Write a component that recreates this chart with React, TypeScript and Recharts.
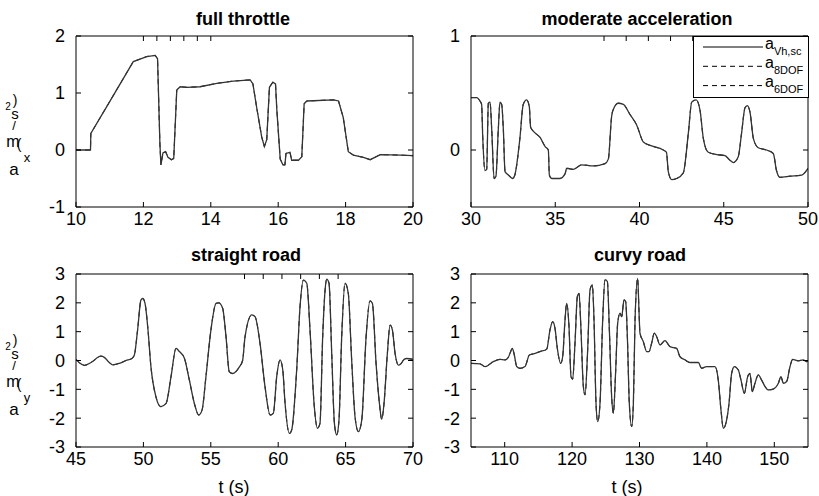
import React from 'react';
import { LineChart, Line, XAxis, YAxis, Legend } from 'recharts';

const W = 819;
const H = 496;

// full throttle (a_x)
const ftTime = [
  10, 10.43, 10.44, 11.0, 11.7, 12.1, 12.35, 12.42, 12.49, 12.52,
  12.58, 12.66, 12.73, 12.83, 12.9, 12.99, 13.09, 13.29, 13.68, 14.18,
  14.67, 15.17, 15.25, 15.36, 15.51, 15.59, 15.66, 15.74, 15.84, 15.92,
  15.96, 16.06, 16.14, 16.2, 16.23, 16.35, 16.4, 16.6, 16.7, 16.77,
  16.85, 17.64, 17.79, 17.93, 18.08, 18.23, 18.53, 18.73, 19.03, 19.63, 20,
];
const ftMeas = [
  0, 0, 0.29, 0.85, 1.55, 1.64, 1.66, 1.6, 0.1, -0.26,
  -0.05, -0.03, -0.13, -0.17, -0.15, 1.05, 1.11, 1.1, 1.11, 1.17,
  1.21, 1.23, 1.16, 0.75, 0.23, 0.06, 0.18, 1.1, 1.19, 1.16,
  0.7, -0.16, -0.26, -0.26, -0.06, -0.04, -0.18, -0.18, -0.12, 0.81,
  0.86, 0.88, 0.86, 0.57, -0.03, -0.09, -0.13, -0.17, -0.08, -0.09, -0.1,
];
// the model curves lie on top of the measurement in the picture
const ft8dof = ftMeas;
const ft6dof = ftMeas;

// moderate acceleration (a_x)
const maTime = [
  30, 30.34, 30.53, 30.63, 30.7, 30.83, 30.93, 31.03, 31.13, 31.23,
  31.37, 31.48, 31.62, 31.72, 31.82, 31.92, 32.02, 32.22, 32.47, 32.6,
  32.9, 33.1, 33.3, 33.46, 33.54, 33.8, 34.1, 34.4, 34.59, 34.65,
  34.79, 35.28, 35.58, 35.68, 36.08, 36.57, 37.26, 37.95, 38.15, 38.35,
  38.49, 38.74, 39.04, 39.44, 39.83, 40.23, 40.63, 41.41, 41.6, 41.71,
  41.91, 42.2, 42.6, 42.9, 43.1, 43.36, 43.59, 43.79, 44.08, 44.58,
  45.07, 45.37, 45.57, 45.86, 46.06, 46.26, 46.4, 46.56, 46.76, 47.05,
  47.54, 47.94, 48.13, 48.33, 48.93, 49.62, 50,
];
const maMeas = [
  0.46, 0.46, 0.43, 0.4, 0.1, -0.18, -0.17, 0.41, 0.42, 0.18,
  -0.25, -0.23, 0.18, 0.42, 0.4, 0.18, -0.19, -0.22, -0.25, -0.22,
  0.1, 0.4, 0.44, 0.38, 0.2, 0.15, 0.11, 0.03, 0.0, -0.22,
  -0.25, -0.25, -0.21, -0.16, -0.17, -0.13, -0.14, -0.12, -0.08, 0.3,
  0.37, 0.41, 0.4, 0.31, 0.22, 0.07, 0.04, 0.0, -0.02, -0.19,
  -0.26, -0.25, -0.2, 0.15, 0.42, 0.44, 0.35, 0.1, -0.02, -0.04,
  -0.05, -0.09, -0.11, -0.06, 0.15, 0.37, 0.39, 0.33, 0.1, 0.02,
  0.0, -0.03, -0.18, -0.24, -0.23, -0.22, -0.16,
];
const ma8dof = maMeas;
const ma6dof = maMeas;

// straight road (a_y)
const srTime = [
  45, 45.25, 45.62, 46.11, 46.85, 47.1, 47.47, 47.72, 48.21, 48.71,
  49.15, 49.33, 49.57, 49.82, 49.95, 50.12, 50.32, 50.56, 50.93, 51.3,
  51.68, 52.05, 52.42, 52.67, 53.04, 53.41, 53.78, 54.1, 54.35, 54.64,
  55.01, 55.39, 55.59, 55.88, 56.13, 56.37, 56.62, 57.12, 57.36, 57.54,
  58.04, 58.28, 58.65, 59.02, 59.4, 59.64, 59.89, 60.14, 60.34, 60.51,
  60.83, 61.0, 61.37, 61.62, 61.87, 62.12, 62.36, 62.66, 62.91, 63.1,
  63.3, 63.48, 63.6, 63.77, 63.97, 64.17, 64.34, 64.51, 64.71, 64.96,
  65.2, 65.45, 65.7, 65.95, 66.2, 66.52, 66.81, 66.99, 67.26, 67.51,
  67.68, 67.85, 68.1, 68.3, 68.47, 68.67, 68.92, 69.09, 69.34, 69.53, 70,
];
const srMeas = [
  0.04, -0.08, -0.17, -0.07, 0.15, 0.11, -0.07, -0.15, -0.1, 0.0,
  0.07, 0.19, 1.06, 2.1, 2.15, 1.98, 1.17, -0.22, -1.26, -1.6,
  -1.49, -0.56, 0.42, 0.31, 0.08, -0.68, -1.49, -1.89, -1.72, -0.56,
  1.06, 1.98, 2.0, 1.81, 0.82, -0.39, -0.45, -0.22, 0.0, 0.82,
  1.58, 1.52, 0.6, -0.9, -1.89, -1.83, -0.56, 0.02, -0.33, -1.49,
  -2.53, -2.41, -0.33, 1.87, 2.79, 2.68, 1.06, -1.49, -2.35, -2.18,
  0.82, 2.45, 2.82, 2.68, 0.25, -2.18, -2.58, -2.06, 0.82, 2.68,
  2.33, 0.02, -1.95, -2.47, -2.06, 0.82, 2.07, 1.98, -0.1, -1.49,
  -2.04, -1.49, 0.25, 1.23, 1.06, 0.25, -0.16, -0.12, 0.04, 0.07, 0.04,
];
const sr8dof = srMeas;
const sr6dof = srMeas;

// curvy road (a_y)
const crTime = [
  105, 106.34, 107.08, 108.31, 109.3, 110.04, 110.54, 110.79, 111.13, 111.43,
  111.78, 112.27, 113.01, 113.66, 114.25, 115.24, 116.23, 116.72, 117.12, 117.46,
  117.81, 118.3, 118.6, 118.95, 119.19, 119.54, 119.84, 120.08, 120.43, 120.78,
  121.03, 121.32, 121.67, 121.92, 122.31, 122.66, 123.01, 123.25, 123.55, 123.8,
  124.14, 124.54, 124.88, 125.23, 125.53, 125.87, 126.12, 126.47, 126.76, 127.11,
  127.36, 127.7, 127.95, 128.2, 128.49, 128.84, 129.09, 129.34, 129.73, 129.92,
  130.07, 130.57, 131.06, 131.41, 131.8, 132.2, 132.54, 133.04, 133.78, 134.52,
  135.51, 136.01, 136.75, 137.49, 138.73, 139.22, 139.96, 141.2, 141.69, 142.09,
  142.44, 142.93, 143.28, 143.67, 144.07, 144.66, 145.06, 145.55, 146.05, 146.39,
  146.74, 147.13, 147.63, 148.12, 148.62, 149.11, 149.85, 150.6, 150.99, 151.34,
  151.83, 152.33, 152.72, 153.56, 154.3, 154.8, 155,
];
const crMeas = [
  -0.1, -0.12, -0.21, -0.04, 0.04, 0.02, 0.11, 0.25, 0.42, 0.19,
  -0.21, -0.27, -0.21, 0.19, 0.23, 0.31, 0.39, 1.06, 1.35, 1.12,
  0.42, -0.1, 0.13, 1.41, 1.98, 1.17, -0.56, -0.65, 0.6, 2.22,
  2.33, 1.06, -0.9, -1.19, 0.37, 2.45, 2.62, 1.41, -1.49, -2.12,
  -1.49, 1.41, 2.8, 2.74, 1.06, -1.26, -1.83, -0.33, 1.29, 1.64,
  1.52, 2.1, 2.04, 0.82, -1.49, -2.29, -1.49, 1.41, 2.85, 1.75,
  0.95, 0.65, 0.31, 0.31, 0.6, 0.95, 0.83, 0.54, 0.69, 0.48,
  0.42, 0.13, 0.02, -0.07, -0.07, -0.27, -0.21, -0.21, -0.68, -1.72,
  -2.35, -2.06, -1.49, -0.45, -0.21, -0.33, -0.68, -1.14, -0.56, -0.45,
  -1.08, -0.79, -0.5, -0.68, -0.9, -1.02, -0.99, -0.79, -0.56, -0.79,
  -0.73, -0.21, 0.04, -0.01, 0.02, -0.04, 0,
];
const cr8dof = crMeas;
const cr6dof = crMeas;

const ftXTicks = [10, 12, 14, 16, 18, 20];
const maXTicks = [30, 35, 40, 45, 50];
const srXTicks = [45, 50, 55, 60, 65, 70];
const crXTicks = [110, 120, 130, 140, 150];
const ftYTicks = [-1, 0, 1, 2];
const maYTicks = [0, 1];
const latYTicks = [-3, -2, -1, 0, 1, 2, 3];

// legend order: measured, 8DOF model, 6DOF model
const seriesNames = ['aVh,sc', 'a8DOF', 'a6DOF'];

const build = (t: number[], m: number[], d8: number[], d6: number[]) =>
  t.map((v, i) => ({ t: v, meas: m[i], dof8: d8[i], dof6: d6[i] }));

const renderLegend = (props: any) => {
  const items = props.payload || [];
  const ordered = seriesNames
    .map((n) => items.find((it: any) => it.value === n))
    .filter(Boolean);
  return (
    <svg width={116} height={62} style={{ display: 'block' }}>
      <rect x={0.5} y={0.5} width={115} height={61} fill="#fff" stroke="#000" />
      {ordered.map((it: any, i: number) => {
        const y = 11 + i * 19.3;
        const name: string = it.value || '';
        return (
          <g key={name}>
            <line x1={10} x2={70} y1={y} y2={y} stroke="#000"
              strokeDasharray={it.payload && it.payload.strokeDasharray} />
            <text x={72} y={y + 1.5} fontSize={16} fill="#000">
              {name.slice(0, 1)}
              <tspan fontSize={11} dy={6}>{name.slice(1)}</tspan>
            </text>
          </g>
        );
      })}
    </svg>
  );
};

interface PanelProps {
  data: any[];
  xDomain: [number, number];
  xTicks: number[];
  yDomain: [number, number];
  yTicks: number[];
  box: [number, number, number, number];
  curve?: 'linear' | 'monotone';
  legend?: boolean;
}

const Panel: React.FC<PanelProps> = ({ data, xDomain, xTicks, yDomain, yTicks, box, curve = 'monotone', legend }) => {
  const [x0, x1, y0, y1] = box;
  const leftW = 60;
  const bottomH = 30;
  const margin = { left: x0 - leftW, right: W - x1 - 1, top: y0 - 1, bottom: H - y1 - bottomH };
  const tickStyle = { fill: '#000', fontSize: 18 };
  return (
    <div style={{ position: 'absolute', left: 0, top: 0 }}>
      <LineChart width={W} height={H} data={data} margin={margin}>
        <XAxis dataKey="t" type="number" domain={xDomain} ticks={xTicks} allowDataOverflow interval={0}
          height={bottomH} tickSize={-5} tickMargin={10} stroke="#000" tick={tickStyle} />
        <XAxis xAxisId="top" orientation="top" type="number" domain={xDomain} ticks={xTicks} allowDataOverflow
          interval={0} height={1} tickSize={-5} tickFormatter={() => ''} stroke="#000" />
        <YAxis type="number" domain={yDomain} ticks={yTicks} allowDataOverflow interval={0} width={leftW}
          tickSize={-5} tickMargin={16} stroke="#000" tick={tickStyle} />
        <YAxis yAxisId="right" orientation="right" type="number" domain={yDomain} ticks={yTicks} allowDataOverflow
          interval={0} width={1} tickSize={-5} tickFormatter={() => ''} stroke="#000" />
        <Line type={curve} dataKey="dof8" name={seriesNames[1]} stroke="#555" strokeWidth={1} strokeDasharray="5 4"
          dot={false} activeDot={false} isAnimationActive={false} />
        <Line type={curve} dataKey="dof6" name={seriesNames[2]} stroke="#555" strokeWidth={1} strokeDasharray="5 4"
          dot={false} activeDot={false} isAnimationActive={false} />
        <Line type={curve} dataKey="meas" name={seriesNames[0]} stroke="#333" strokeWidth={1.3}
          dot={false} activeDot={false} isAnimationActive={false} />
        {legend && (
          <Legend layout="horizontal" verticalAlign="middle" align="center" content={renderLegend}
            wrapperStyle={{ position: 'absolute', left: 693, top: 36, width: 116, height: 62 }} />
        )}
      </LineChart>
    </div>
  );
};

// y label glyphs as MATLAB left them: upright and stacked
const yLabelChars = (base: number, sub: string) => [
  { ch: ')', x: 15, y: base + 105, s: 14 },
  { ch: '2', x: 8, y: base + 110, s: 10 },
  { ch: 's', x: 15, y: base + 119, s: 15 },
  { ch: '/', x: 14, y: base + 130, s: 13 },
  { ch: 'm', x: 13, y: base + 147, s: 16 },
  { ch: '(', x: 19, y: base + 149, s: 14 },
  { ch: sub, x: 27, y: base + 162, s: 13 },
  { ch: 'a', x: 14, y: base + 175, s: 17 },
];

const YLabel: React.FC<{ base: number; sub: string }> = ({ base, sub }) => (
  <text textAnchor="middle" fill="#000">
    {yLabelChars(base, sub).map((l, i) => (
      <tspan key={i} x={l.x} y={l.y} fontSize={l.s}>{l.ch}</tspan>
    ))}
  </text>
);

const App: React.FC = () => (
  <div style={{ position: 'absolute', left: 0, top: 0, width: W, height: H, background: '#fff',
    fontFamily: '"Liberation Sans", Arial, sans-serif' }}>
    <Panel data={build(ftTime, ftMeas, ft8dof, ft6dof)} xDomain={[10, 20]} xTicks={ftXTicks}
      yDomain={[-1, 2]} yTicks={ftYTicks} box={[76, 413, 36, 207]} curve="linear" />
    <Panel data={build(maTime, maMeas, ma8dof, ma6dof)} xDomain={[30, 50]} xTicks={maXTicks}
      yDomain={[-0.5, 1]} yTicks={maYTicks} box={[471, 808, 36, 207]} legend />
    <Panel data={build(srTime, srMeas, sr8dof, sr6dof)} xDomain={[45, 70]} xTicks={srXTicks}
      yDomain={[-3, 3]} yTicks={latYTicks} box={[76, 413, 274, 447]} />
    <Panel data={build(crTime, crMeas, cr8dof, cr6dof)} xDomain={[105, 155]} xTicks={crXTicks}
      yDomain={[-3, 3]} yTicks={latYTicks} box={[471, 808, 274, 447]} />
    <svg width={W} height={H} style={{ position: 'absolute', left: 0, top: 0, pointerEvents: 'none' }}>
      <g fontWeight="bold" fontSize={18} textAnchor="middle" fill="#000">
        <text x={243} y={25}>full throttle</text>
        <text x={637} y={25}>moderate acceleration</text>
        <text x={246} y={261}>straight road</text>
        <text x={640} y={261}>curvy road</text>
      </g>
      <g fontSize={18} textAnchor="middle" fill="#000">
        <text x={234} y={493}>t (s)</text>
        <text x={627} y={493}>t (s)</text>
      </g>
      <YLabel base={0} sub="x" />
      <YLabel base={240} sub="y" />
    </svg>
  </div>
);

export default App;
